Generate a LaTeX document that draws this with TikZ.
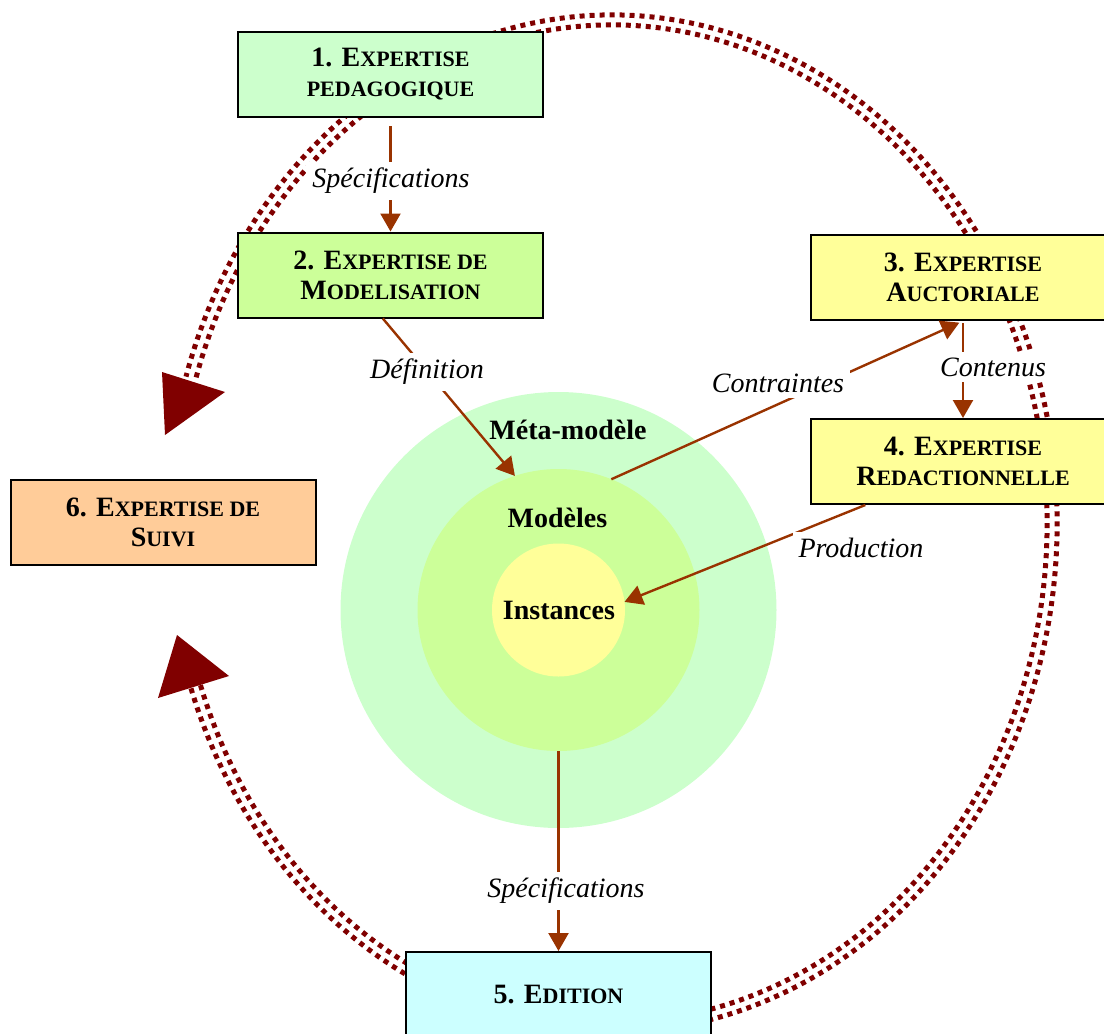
\documentclass[tikz,border=0pt]{standalone}
\usepackage{fontspec}
\setmainfont{Liberation Serif}
\usetikzlibrary{shapes.geometric, arrows.meta, positioning}
\definecolor{maroon}{HTML}{800000}
\definecolor{rust}{HTML}{993300}
\definecolor{palegreen}{HTML}{CCFFCC}
\definecolor{limegreen}{HTML}{CCFF99}
\definecolor{paleyellow}{HTML}{FFFF99}
\definecolor{peach}{HTML}{FFCC99}
\definecolor{palecyan}{HTML}{CCFFFF}
\newcommand{\smc}[1]{{\fontsize{11}{15}\selectfont #1}}

\begin{document}
\begin{tikzpicture}[x=0.5pt, y=-0.5pt,
    box/.style={draw=black, line width=1pt, minimum width=152.5pt, minimum height=42.5pt,
      align=center, inner sep=2pt, font=\fontsize{14}{15}\selectfont\bfseries},
    ring/.style={circle, draw=none, inner sep=0pt, outer sep=0pt},
    flow/.style={draw=rust, line width=1.2pt, -{Triangle[length=9pt, width=10pt]}},
    lab/.style={fill=white, inner sep=3pt, font=\fontsize{14}{16}\selectfont\itshape},
    ringtxt/.style={font=\fontsize{14}{16}\selectfont\bfseries},
    cyc/.style={draw=maroon, line width=2.5pt, dash pattern=on 2.5pt off 2.5pt}]
    \useasboundingbox (0,0) rectangle (1104,1034);
    \clip (0,0) rectangle (1104,1034);
    % Cycle
    \draw[cyc] (612,523.6) ++(161.1:445 and 508.6)
      arc[start angle=161.1, end angle=-163.2, x radius=445, y radius=508.6];
    \draw[cyc] (612,523.6) ++(161.1:435 and 498.6)
      arc[start angle=161.1, end angle=-163.2, x radius=435, y radius=498.6];
    \fill[maroon] (162,372) -- (225,392) -- (165,435) -- cycle;
    \fill[maroon] (177,635) -- (229,676) -- (158,698) -- cycle;
    % Rings
    \node[ring, fill=palegreen, minimum size=218pt] (meta) at (558.5,610) {};
    \node[ring, fill=limegreen, minimum size=141pt] (modeles) at (558.5,610) {};
    \node[ring, fill=paleyellow, minimum size=66.5pt] (inst) at (558.5,610) {};
    \node[ringtxt] (metatxt) at (568,430) {Méta-modèle};
    \node[ringtxt] (modtxt) at (557.5,518) {Modèles};
    \node[ringtxt] (insttxt) at (559,610) {Instances};
    % Boxes
    \node[box, fill=palegreen] (pedago) at (390.5,74.5) {1. E\smc{XPERTISE}\\\smc{PEDAGOGIQUE}};
    \node[box, fill=limegreen] (modelis) at (390.5,275) {2. E\smc{XPERTISE DE}\\M\smc{ODELISATION}};
    \node[box, fill=paleyellow] (auctor) at (963,277.5) {3. E\smc{XPERTISE}\\A\smc{UCTORIALE}};
    \node[box, fill=paleyellow] (redac) at (963,461.5) {4. E\smc{XPERTISE}\\R\smc{EDACTIONNELLE}};
    \node[box, fill=peach] (suivi) at (163,522) {6. E\smc{XPERTISE DE}\\S\smc{UIVI}};
    \node[box, fill=palecyan] (edition) at (558.5,994.5) {5. E\smc{DITION}};
    % Flows
    \draw[flow, shorten <=4pt] (pedago.south) -- (modelis.north);
    \draw[flow] (modelis.260) -- (modeles.108);
    \draw[flow, shorten >=2pt] (modeles.68) -- (auctor.south);
    \draw[flow, shorten <=1pt] (auctor.south) -- (redac.north);
    \draw[flow] (redac.204) -- (inst.7);
    \draw[flow] (modeles.south) -- (edition.north);
    \node[lab] (specA) at (391,181) {Spécifications};
    \node[lab] (defn) at (427,372) {Définition};
    \node[lab] (contr) at (778,383) {Contraintes};
    \node[lab] (conten) at (993,367) {Contenus};
    \node[lab] (prod) at (861,548) {Production};
    \node[lab] (specB) at (566,891) {Spécifications};
\end{tikzpicture}
\end{document}
